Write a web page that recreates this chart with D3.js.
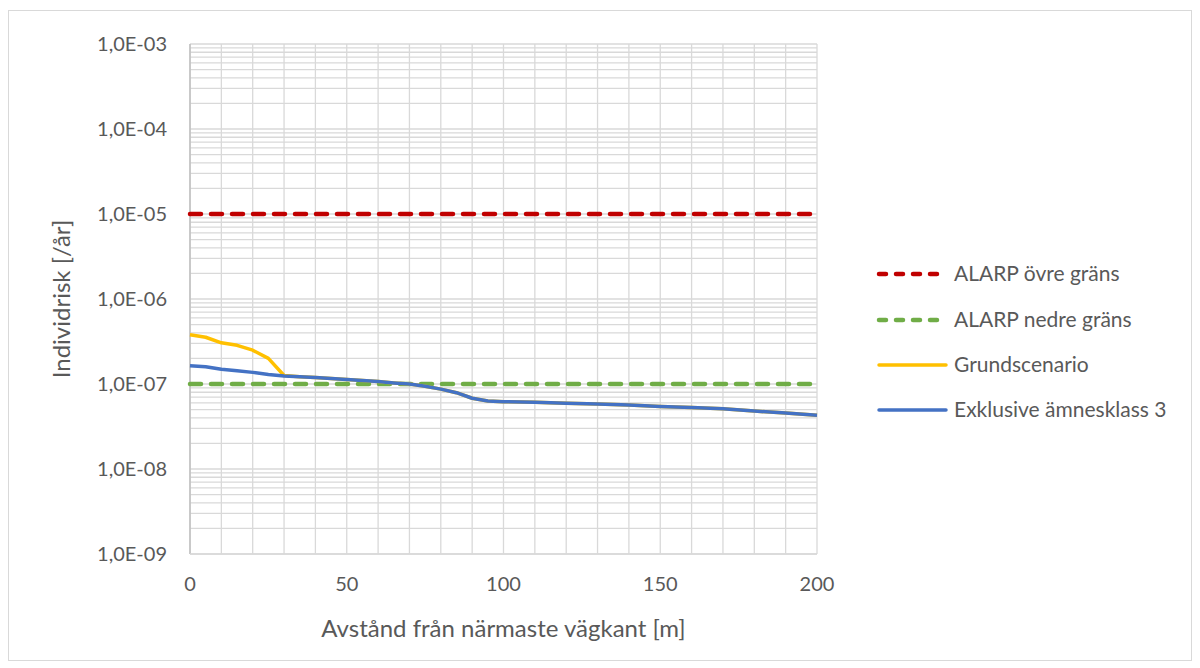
<!DOCTYPE html>
<html>
  <head>
    <meta charset="utf-8">
    <title>Individrisk</title>
    <script src="https://cdn.jsdelivr.net/npm/d3@7"></script>
    <style>
      body { margin: 0; background: #fff; font-family: Lato, "Open Sans", sans-serif; }
      text { fill: #595959; }
    </style>
  </head>
  <body>
    <svg id="chart" width="1200" height="668"></svg>
    <script>
      // data (values in /år)
      const distances = [0, 5, 10, 15, 20, 25, 30, 35, 40, 45, 50, 55, 60, 65, 70, 75, 80, 85, 90, 95, 100,
                         110, 120, 130, 140, 150, 160, 170, 180, 190, 200];
      const exklusive = [1.64, 1.60, 1.49, 1.43, 1.37, 1.29, 1.24, 1.22, 1.19, 1.16, 1.13, 1.10, 1.07, 1.03, 1.00,
                         0.94, 0.87, 0.79, 0.68, 0.63, 0.62, 0.61, 0.595, 0.58, 0.565, 0.545, 0.53, 0.51, 0.48, 0.455, 0.43]
                         .map(v => v * 1e-7);
      const grund = [3.8, 3.55, 3.05, 2.85, 2.5, 2.0, 1.26, 1.22, 1.19, 1.16, 1.13, 1.10, 1.07, 1.03, 1.00,
                     0.94, 0.87, 0.79, 0.68, 0.63, 0.62, 0.61, 0.595, 0.58, 0.565, 0.545, 0.53, 0.51, 0.48, 0.455, 0.43]
                     .map(v => v * 1e-7);
      const alarpOvre = 1e-5;
      const alarpNedre = 1e-7;
      const yTicks = [1e-9, 1e-8, 1e-7, 1e-6, 1e-5, 1e-4, 1e-3];
      const xTicks = [0, 50, 100, 150, 200];
      const seriesNames = ["ALARP övre gräns", "ALARP nedre gräns", "Grundscenario", "Exklusive ämnesklass 3"];

      const svg = d3.select("#chart");
      const plot = { left: 190, right: 817, top: 44, bottom: 554 };

      // chart frame
      svg.append("rect")
        .attr("x", 8.5).attr("y", 10.5)
        .attr("width", 1183).attr("height", 650)
        .attr("fill", "#fff")
        .attr("stroke", "#d9d9d9");

      const x = d3.scaleLinear().domain([0, 200]).range([plot.left, plot.right]);
      const y = d3.scaleLog().domain([1e-9, 1e-3]).range([plot.bottom, plot.top]);

      // gridlines
      const grid = svg.append("g").attr("stroke", "#d9d9d9").attr("stroke-width", 1.3);
      d3.range(0, 201, 10).forEach(function(d) {
        grid.append("line")
          .attr("x1", x(d)).attr("x2", x(d))
          .attr("y1", plot.top).attr("y2", plot.bottom);
      });
      const minor = [];
      for (let e = -9; e < -3; e++) {
        for (let m = 1; m <= 9; m++) minor.push(m * Math.pow(10, e));
      }
      minor.push(1e-3);
      minor.forEach(function(d) {
        grid.append("line")
          .attr("x1", plot.left).attr("x2", plot.right)
          .attr("y1", y(d)).attr("y2", y(d));
      });

      // axis lines
      svg.append("line")
        .attr("x1", plot.left).attr("x2", plot.left)
        .attr("y1", plot.top).attr("y2", plot.bottom)
        .attr("stroke", "#bfbfbf").attr("stroke-width", 1.5);
      svg.append("line")
        .attr("x1", plot.left).attr("x2", plot.right)
        .attr("y1", plot.bottom).attr("y2", plot.bottom)
        .attr("stroke", "#d9d9d9").attr("stroke-width", 1.5);

      // tick labels
      const fmt = d => "1,0E-" + String(-Math.round(Math.log10(d))).padStart(2, "0");
      svg.append("g").selectAll("text")
        .data(yTicks)
        .join("text")
          .attr("x", 167)
          .attr("y", d => y(d))
          .attr("dy", "0.35em")
          .attr("text-anchor", "end")
          .attr("font-size", 20)
          .text(fmt);
      svg.append("g").selectAll("text")
        .data(xTicks)
        .join("text")
          .attr("x", d => x(d))
          .attr("y", 591)
          .attr("text-anchor", "middle")
          .attr("font-size", 20)
          .text(d => d);

      // axis titles
      svg.append("text")
        .attr("x", (plot.left + plot.right) / 2)
        .attr("y", 637)
        .attr("text-anchor", "middle")
        .attr("font-size", 24)
        .text("Avstånd från närmaste vägkant [m]");
      svg.append("text")
        .attr("transform", "translate(62,299) rotate(-90)")
        .attr("dy", "0.35em")
        .attr("text-anchor", "middle")
        .attr("font-size", 24)
        .text("Individrisk [/år]");

      // series
      const styles = [
        { color: "#c00000", dash: "11,10" },
        { color: "#70ad47", dash: "11,10" },
        { color: "#ffc000", dash: null },
        { color: "#4472c4", dash: null }
      ];
      const line = d3.line()
        .x(d => x(d[0]))
        .y(d => y(d[1]));

      const seriesData = [
        [[0, alarpOvre], [200, alarpOvre]],
        [[0, alarpNedre], [200, alarpNedre]],
        distances.map((d, i) => [d, grund[i]]),
        distances.map((d, i) => [d, exklusive[i]])
      ];
      seriesData.forEach(function(data, i) {
        svg.append("path")
          .datum(data)
          .attr("d", line)
          .attr("fill", "none")
          .attr("stroke", styles[i].color)
          .attr("stroke-width", i < 2 ? 4.5 : 3.5)
          .attr("stroke-linecap", i < 2 ? "round" : "butt")
          .attr("stroke-linejoin", "round")
          .attr("stroke-dasharray", styles[i].dash);
      });

      // legend
      const legend = svg.append("g");
      const legendY = [274, 320, 365, 410];
      seriesNames.forEach(function(name, i) {
        legend.append("line")
          .attr("x1", 879).attr("x2", 946)
          .attr("y1", legendY[i]).attr("y2", legendY[i])
          .attr("stroke", styles[i].color)
          .attr("stroke-width", i < 2 ? 4.5 : 3.5)
          .attr("stroke-linecap", "round")
          .attr("stroke-dasharray", i < 2 ? "7,10" : null);
        legend.append("text")
          .attr("x", 954)
          .attr("y", legendY[i])
          .attr("dy", "0.35em")
          .attr("font-size", 21)
          .text(name);
      });
    </script>
  </body>
</html>
